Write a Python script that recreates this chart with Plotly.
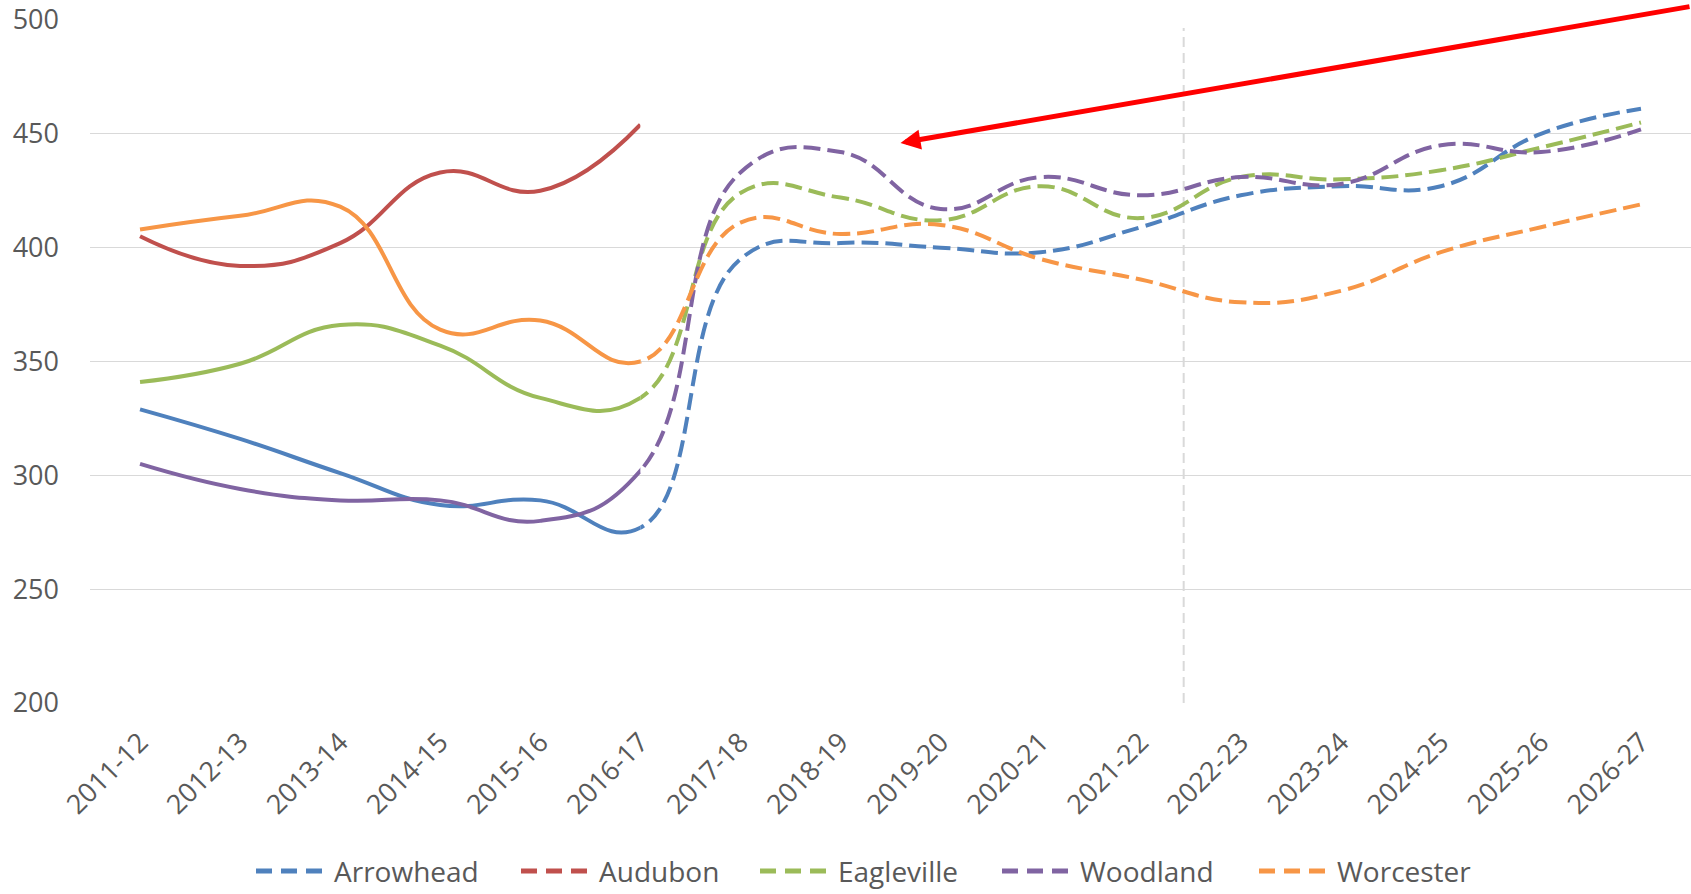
import plotly.graph_objects as go

categories = ["2011-12", "2012-13", "2013-14", "2014-15", "2015-16", "2016-17",
              "2017-18", "2018-19", "2019-20", "2020-21", "2021-22", "2022-23",
              "2023-24", "2024-25", "2025-26", "2026-27"]
x_pos = list(range(len(categories)))  # category slots on the axis

series_names = ["Arrowhead", "Audubon", "Eagleville", "Woodland", "Worcester"]

# actual enrollment 2011-12 .. 2016-17 (solid)
arrowhead_hist = [329, 316, 301, 287, 289, 277]
audubon_hist = [405, 392, 402, 433, 425, 454]
eagleville_hist = [341, 349, 366, 357, 334, 334]
woodland_hist = [305, 294, 289, 289, 280, 302]
worcester_hist = [408, 414, 418, 364, 368, 350]

# projected 2017-18 .. 2026-27 (dashed)
arrowhead_proj = [395, 402, 400, 398, 409, 423, 427, 427, 450, 461]
audubon_proj = [None] * 10
eagleville_proj = [424, 422, 412, 427, 413, 431, 430, 434, 444, 455]
woodland_proj = [433, 442, 417, 431, 423, 431, 428, 445, 442, 452]
worcester_proj = [411, 406, 410, 395, 386, 376, 381, 398, 409, 419]

colors = ["#4F81BD", "#C0504D", "#9BBB59", "#8064A2", "#F79646"]

hist = [arrowhead_hist, audubon_hist, eagleville_hist, woodland_hist, worcester_hist]
proj = [arrowhead_proj, audubon_proj, eagleville_proj, woodland_proj, worcester_proj]

last_actual = 5          # index of 2016-17, where solid turns to dashed
divider_x = 10.43        # vertical dashed divider (category-slot units)
divider_top = 496.5

arrow_head = (7.6, 446)  # data coords
arrow_tail = (15.5, 506)

text_color = "#595959"
font_family = "'Open Sans', sans-serif"
dash_pattern = "17px,7px"
line_w = 4
smooth = 1.3

W, H = 1691, 894
M_L, M_R, M_T, M_B = 90, 0, 20, 191
plot_w = W - M_L - M_R
plot_h = H - M_T - M_B

legend_sym_x0 = [166, 431, 670, 912, 1169]   # px from plot-area left
legend_sym_len = 68
legend_text_gap = 8
legend_y_px = 851                              # px from plot-area top

x_lo, x_hi = -0.5, len(categories) - 0.5
split_frac = (last_actual - x_lo) / (x_hi - x_lo)


def px_to_paper_x(px):
    return px / plot_w


def px_to_paper_y(py):
    return 1 - py / plot_h


fig = go.Figure()

# helper trace so the main category axis renders
fig.add_trace(go.Scatter(x=x_pos, y=[None] * len(x_pos), mode="lines",
                         showlegend=False, hoverinfo="skip"))

for name, c, h, p in zip(series_names, colors, hist, proj):
    full = h + p
    # solid part: one continuous spline, clipped at 2016-17 by the x2 sub-axis
    fig.add_trace(go.Scatter(
        x=x_pos[:last_actual + 2], y=full[:last_actual + 2], mode="lines",
        name=name, showlegend=False, xaxis="x2", yaxis="y",
        line=dict(color=c, width=line_w, shape="spline", smoothing=smooth),
        hoverinfo="skip"))
    # dashed part: clipped from 2016-17 onward by the x3 sub-axis
    fig.add_trace(go.Scatter(
        x=x_pos[last_actual - 1:], y=full[last_actual - 1:], mode="lines",
        name=name, showlegend=False, xaxis="x3", yaxis="y",
        line=dict(color=c, width=line_w, shape="spline", smoothing=smooth,
                  dash=dash_pattern),
        hoverinfo="skip"))

fig.add_shape(type="line", xref="x", yref="y",
              x0=divider_x, x1=divider_x, y0=200, y1=divider_top,
              line=dict(color="#D9D9D9", width=2, dash="10px,6px"), layer="below")

fig.add_annotation(x=arrow_head[0], y=arrow_head[1], xref="x", yref="y",
                   ax=arrow_tail[0], ay=arrow_tail[1], axref="x", ayref="y",
                   showarrow=True, arrowhead=2, arrowsize=0.8, arrowwidth=5,
                   arrowcolor="#FF0000", text="", standoff=0)

ly = px_to_paper_y(legend_y_px)
for name, c, sx in zip(series_names, colors, legend_sym_x0):
    fig.add_shape(type="line", xref="paper", yref="paper",
                  x0=px_to_paper_x(sx), x1=px_to_paper_x(sx + legend_sym_len),
                  y0=ly, y1=ly, line=dict(color=c, width=line_w + 1, dash="16px,9px"))
    fig.add_annotation(x=px_to_paper_x(sx + legend_sym_len + legend_text_gap), y=ly,
                       xref="paper", yref="paper", xanchor="left", yanchor="middle",
                       text=name, showarrow=False,
                       font=dict(size=28, color=text_color, family=font_family))

hidden_axis = dict(visible=False, showgrid=False, zeroline=False, anchor="y")

fig.update_layout(
    width=W, height=H,
    margin=dict(l=M_L, r=M_R, t=M_T, b=M_B),
    paper_bgcolor="white", plot_bgcolor="rgba(0,0,0,0)",
    font=dict(family=font_family, color=text_color, size=27),
    showlegend=False,
    xaxis=dict(range=[x_lo, x_hi], domain=[0, 1], tickmode="array", tickvals=x_pos,
               ticktext=categories, showgrid=False, zeroline=False, showline=False,
               tickangle=-45, tickfont=dict(size=27, color=text_color), ticks="",
               ticklabelstandoff=17),
    xaxis2=dict(range=[x_lo, last_actual], domain=[0, split_frac], **hidden_axis),
    xaxis3=dict(range=[last_actual, x_hi], domain=[split_frac, 1], **hidden_axis),
    yaxis=dict(range=[200, 500], dtick=50, tick0=200, showgrid=True, gridcolor="#D9D9D9",
               gridwidth=1.3, zeroline=False, showline=False, ticks="",
               tickfont=dict(size=27, color=text_color), ticklabelstandoff=30,
               ticklabeloverflow="allow"),
)

fig.write_html("out.html",
               config={"displayModeBar": False, "staticPlot": True},
               post_script="document.body.style.margin='0px';"
                           "document.body.style.overflow='hidden';")
